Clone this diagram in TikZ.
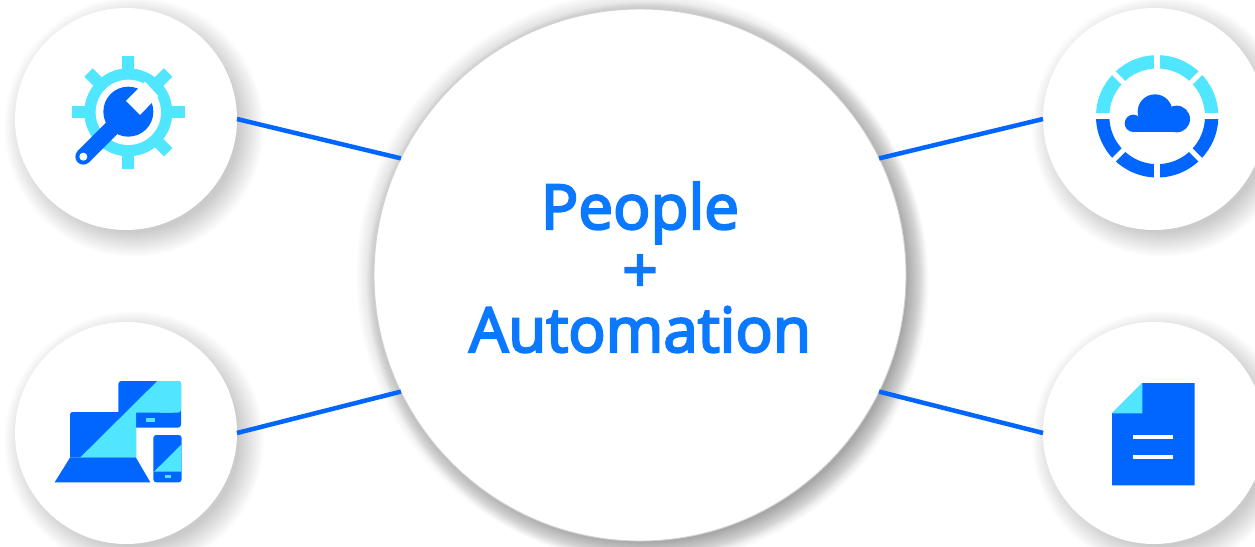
\documentclass[tikz,border=0pt]{standalone}
\usepackage{fontspec}
\setmainfont{Open Sans}[FakeBold=3.5]
\definecolor{azure}{HTML}{0066FF}
\definecolor{sky}{HTML}{50E6FF}
\definecolor{inkblue}{HTML}{0A78FF}
\tikzset{
  x=1pt,y=-1pt,
  hub/.style={circle,fill=white,minimum size=532pt,inner sep=0pt,outer sep=0pt},
  sat/.style={circle,fill=white,minimum size=222pt,inner sep=0pt,outer sep=0pt},
  link/.style={draw=azure,line width=4.5pt},
  title/.style={text=inkblue,font=\fontsize{62}{62}\selectfont,inner sep=0pt,anchor=base}
}
\newcommand{\softshadow}[5]{% x y r spread opacity
  \foreach \k in {1,...,#4}{
    \fill[black,opacity=#5] (#1,#2) circle ({#3+#4-\k});
  }
}
\begin{document}
\begin{tikzpicture}
\useasboundingbox (0,0) rectangle (1255,546);
\softshadow{641}{276}{266}{20}{0.006}
\softshadow{648}{283}{258}{24}{0.013}
\softshadow{134}{127}{105}{26}{0.0075}
\softshadow{134}{441}{105}{26}{0.0075}
\softshadow{1162}{127}{105}{26}{0.0075}
\softshadow{1162}{441}{105}{26}{0.0075}
\node[sat] (tl) at (126,119) {};
\node[sat] (bl) at (126,433) {};
\node[sat] (tr) at (1154,119) {};
\node[sat] (br) at (1154,433) {};
\node[hub,draw=black!18,line width=0.9pt] (hub) at (640,275) {};
\draw[link] (tl.0) -- (hub.154.7);
\draw[link] (bl.0) -- (hub.206.5);
\draw[link] (tr.180) -- (hub.26.5);
\draw[link] (br.180) -- (hub.334.5);
\node[title] (t1) at (640,229) {People};
\node[title] (t2) at (640,292) {+};
\node[title] (t3) at (640,352) {Automation};
% gear
\begin{scope}[shift={(50,40)},scale=1/3]
  \foreach \a in {0,45,...,315}{
    \fill[sky,rotate around={\a:(235,217)}] (217,48) rectangle (253,120);
  }
  \fill[sky] (235,217) circle (132);
  \fill[white] (235,217) circle (98);
  \fill[azure] (235,215) circle (75);
  \fill[azure] (100,350) circle (24);
  \fill[azure] (218,198) -- (252,232) -- (117,367) -- (83,333) -- cycle;
  \fill[white] (100,350) circle (12);
  \fill[white] (285,125) -- (228,183) -- (270,225) -- (325,168) -- cycle;
\end{scope}
% cloud ring
\begin{scope}[shift={(1080,40)},scale=1/3]
  \fill[azure] (48,229) arc[start angle=180,end angle=0,radius=183.5] -- (375,229) arc[start angle=0,end angle=180,radius=143.5] -- cycle;
  \fill[sky] (48,229) arc[start angle=180,end angle=360,radius=183.5] -- (375,229) arc[start angle=360,end angle=180,radius=143.5] -- cycle;
  \draw[white,line width=6pt] (30,229) -- (432,229);
  \draw[white,line width=6pt] (231.5,30) -- (231.5,430);
  \draw[white,line width=5pt] (90,88) -- (373,371);
  \draw[white,line width=5pt] (90,371) -- (373,88);
  \fill[azure] (160,250) circle (26);
  \fill[azure] (225,215) circle (52);
  \fill[azure] (290,237) circle (40);
  \fill[azure] (160,235) rectangle (290,277);
\end{scope}
% devices
\begin{scope}[shift={(40,365)},scale=1/3]
  \fill[azure,rounded corners=3pt] (235,48) rectangle (423,188);
  \fill[sky,rounded corners=3pt] (352,48) -- (423,48) -- (423,143) -- (352,143) -- cycle;
  \fill[azure] (90,148) -- (95,141) -- (288,141) -- (288,278) -- (90,278) -- cycle;
  \fill[sky] (352,48) -- (400,48) -- (400,143) -- (288,143) -- (288,278) -- (120,278) -- cycle;
  \fill[sky] (318,159) rectangle (345,171);
  \fill[azure] (90,278) -- (288,278) -- (331,352) -- (44,352) -- cycle;
  \fill[azure,rounded corners=3pt] (340,210) rectangle (425,352);
  \fill[sky] (425,238) -- (425,320) -- (342,320) -- cycle;
  \fill[sky] (375,330) rectangle (393,339);
\end{scope}
% document
\begin{scope}[shift={(1090,365)},scale=1/3]
  \fill[azure] (157,54) -- (314,54) -- (314,361) -- (66,361) -- (66,145) -- cycle;
  \fill[sky] (157,54) -- (157,145) -- (66,145) -- cycle;
  \fill[white] (130,210) rectangle (248,222);
  \fill[white] (130,270) rectangle (248,282);
\end{scope}
\end{tikzpicture}
\end{document}
